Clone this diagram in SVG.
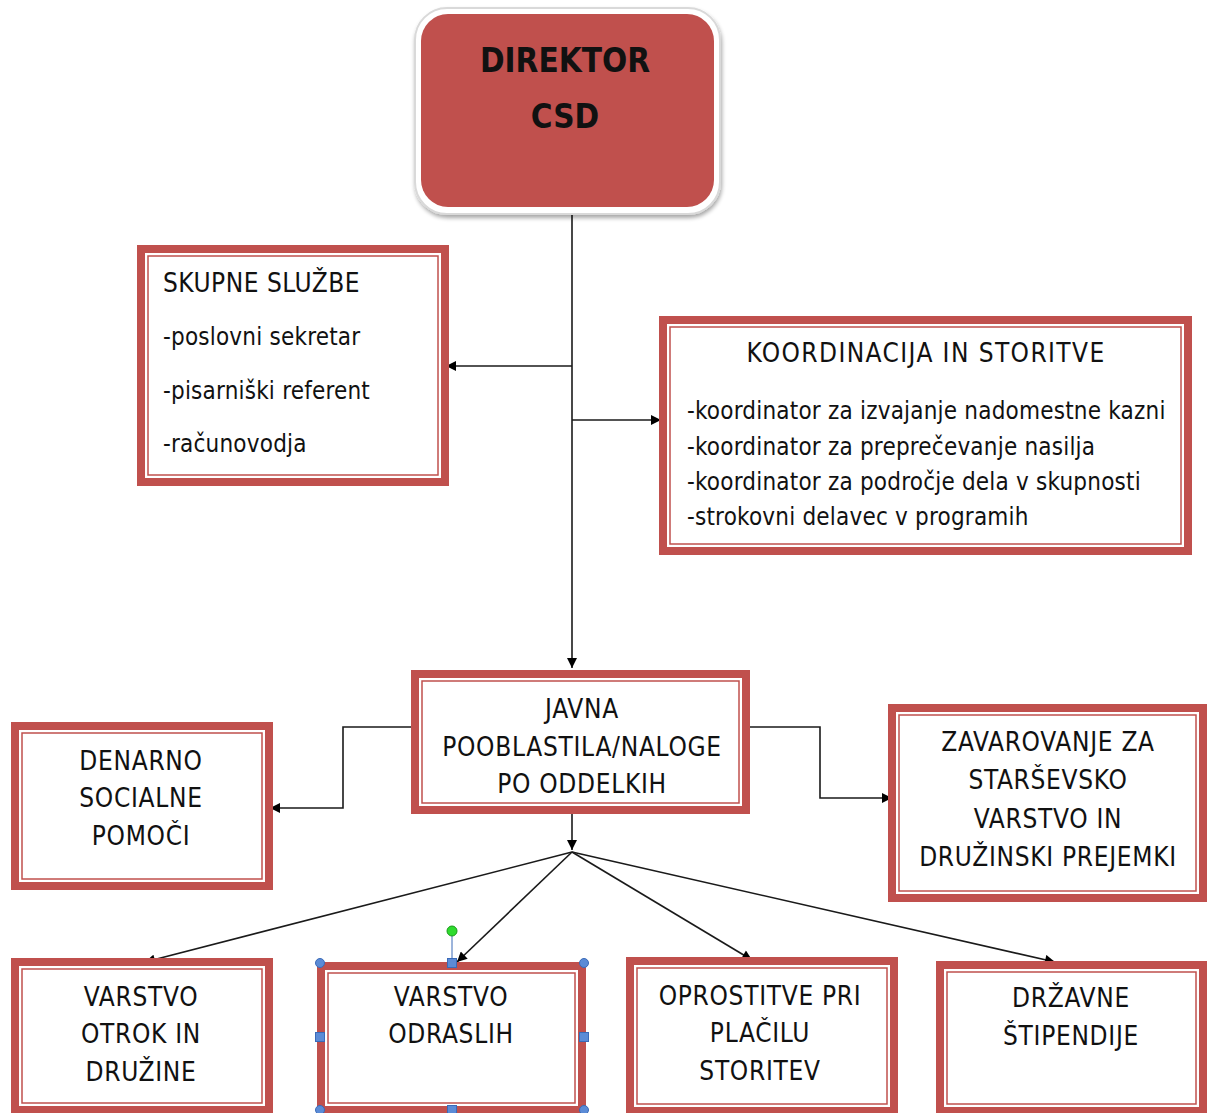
<svg xmlns="http://www.w3.org/2000/svg" width="1207" height="1113" viewBox="0 0 1207 1113">
<style>
.outer{fill:#fff;stroke:#C0504D;stroke-width:8}
.inner{fill:none;stroke:#C0504D;stroke-width:1.5}
.t{font-family:"DejaVu Sans Condensed","DejaVu Sans",sans-serif;font-stretch:condensed;font-size:26px;fill:#111}
.c{text-anchor:middle;letter-spacing:0.7px}
.l{font-size:24px;letter-spacing:0.2px}
.con{fill:none;stroke:#1a1a1a;stroke-width:1.6}
.h{fill:#5B8BD6;stroke:#3A6AB8;stroke-width:1}
</style>
<defs>
<marker id="ah" viewBox="0 0 10 10" refX="10" refY="5" markerWidth="12" markerHeight="10" markerUnits="userSpaceOnUse" orient="auto">
<path d="M0,0 L10,5 L0,10 z" fill="#000"/>
</marker>
<filter id="sh" x="-10%" y="-10%" width="120%" height="120%">
<feGaussianBlur in="SourceAlpha" stdDeviation="2"/>
<feOffset dx="1" dy="3"/>
<feComponentTransfer><feFuncA type="linear" slope="0.35"/></feComponentTransfer>
<feMerge><feMergeNode/><feMergeNode in="SourceGraphic"/></feMerge>
</filter>
</defs>
<rect width="1207" height="1113" fill="#fff"/>

<g id="connectors">
<path class="con" d="M572,207 V668" marker-end="url(#ah)"/>
<path class="con" d="M572,366 H446" marker-end="url(#ah)"/>
<path class="con" d="M572,420 H661" marker-end="url(#ah)"/>
<path class="con" d="M411,727 H343 V808 H270" marker-end="url(#ah)"/>
<path class="con" d="M749,727 H820 V798 H892" marker-end="url(#ah)"/>
<path class="con" d="M572,812 V850" marker-end="url(#ah)"/>
<path class="con" d="M572,852 L145,962" marker-end="url(#ah)"/>
<path class="con" d="M572,852 L457,962" marker-end="url(#ah)"/>
<path class="con" d="M572,852 L752,960" marker-end="url(#ah)"/>
<path class="con" d="M572,852 L1055,962" marker-end="url(#ah)"/>
</g>

<g id="direktor">
<rect x="415" y="8" width="305" height="206" rx="32" fill="#fff" stroke="#d9d9d9" stroke-width="2" filter="url(#sh)"/>
<rect x="421" y="14" width="293" height="193" rx="27" fill="#C0504D"/>
<text class="t" x="565" y="72" text-anchor="middle" style="font-weight:bold;font-size:33px">DIREKTOR</text>
<text class="t" x="565" y="128" text-anchor="middle" style="font-weight:bold;font-size:33px">CSD</text>
</g>

<g id="skupne">
<rect class="outer" x="141" y="249" width="304" height="233"/>
<rect class="inner" x="148" y="256" width="290" height="219"/>
<text class="t" x="163" y="292" style="letter-spacing:0.5px">SKUPNE SLUŽBE</text>
<text class="t l" x="163" y="345">-poslovni sekretar</text>
<text class="t l" x="163" y="399">-pisarniški referent</text>
<text class="t l" x="163" y="452">-računovodja</text>
</g>

<g id="koordinacija">
<rect class="outer" x="663" y="320" width="525" height="231"/>
<rect class="inner" x="670" y="327" width="511" height="217"/>
<text class="t c" x="926" y="362" style="letter-spacing:1.4px">KOORDINACIJA IN STORITVE</text>
<text class="t l" x="687" y="419">-koordinator za izvajanje nadomestne kazni</text>
<text class="t l" x="687" y="455">-koordinator za preprečevanje nasilja</text>
<text class="t l" x="687" y="490">-koordinator za področje dela v skupnosti</text>
<text class="t l" x="687" y="525">-strokovni delavec v programih</text>
</g>

<g id="javna">
<rect class="outer" x="415" y="674" width="331" height="136"/>
<rect class="inner" x="422" y="681" width="317" height="122"/>
<text class="t c" x="582" y="718">JAVNA</text>
<text class="t c" x="582" y="756">POOBLASTILA/NALOGE</text>
<text class="t c" x="582" y="793">PO ODDELKIH</text>
</g>

<g id="denarno">
<rect class="outer" x="15" y="726" width="254" height="160"/>
<rect class="inner" x="22" y="733" width="240" height="146"/>
<text class="t c" x="141" y="770">DENARNO</text>
<text class="t c" x="141" y="807">SOCIALNE</text>
<text class="t c" x="141" y="845">POMOČI</text>
</g>

<g id="zavarovanje">
<rect class="outer" x="892" y="708" width="311" height="190"/>
<rect class="inner" x="899" y="715" width="297" height="176"/>
<text class="t c" x="1048" y="751">ZAVAROVANJE ZA</text>
<text class="t c" x="1048" y="789">STARŠEVSKO</text>
<text class="t c" x="1048" y="828">VARSTVO IN</text>
<text class="t c" x="1048" y="866">DRUŽINSKI PREJEMKI</text>
</g>

<g id="varstvo-otrok">
<rect class="outer" x="15" y="962" width="254" height="148"/>
<rect class="inner" x="22" y="969" width="240" height="134"/>
<text class="t c" x="141" y="1006">VARSTVO</text>
<text class="t c" x="141" y="1043">OTROK IN</text>
<text class="t c" x="141" y="1081">DRUŽINE</text>
</g>

<g id="varstvo-odraslih">
<rect class="outer" x="321" y="966" width="261" height="144"/>
<rect class="inner" x="328" y="973" width="247" height="130"/>
<text class="t c" x="451" y="1006">VARSTVO</text>
<text class="t c" x="451" y="1043">ODRASLIH</text>
<line x1="452" y1="931" x2="452" y2="963" stroke="#3A6AB8" stroke-width="1"/>
<circle cx="452" cy="931" r="5" fill="#2EDB2E" stroke="#1a9a1a" stroke-width="1"/>
<circle class="h" cx="320" cy="963" r="4.5"/>
<circle class="h" cx="584" cy="963" r="4.5"/>
<circle class="h" cx="320" cy="1110" r="4.5"/>
<circle class="h" cx="584" cy="1110" r="4.5"/>
<rect class="h" x="447.5" y="958.5" width="9" height="9"/>
<rect class="h" x="447.5" y="1105.5" width="9" height="9"/>
<rect class="h" x="315.5" y="1032.5" width="9" height="9"/>
<rect class="h" x="579.5" y="1032.5" width="9" height="9"/>
</g>

<g id="oprostitve">
<rect class="outer" x="630" y="961" width="264" height="150"/>
<rect class="inner" x="637" y="968" width="250" height="136"/>
<text class="t c" x="760" y="1005">OPROSTITVE PRI</text>
<text class="t c" x="760" y="1042">PLAČILU</text>
<text class="t c" x="760" y="1080">STORITEV</text>
</g>

<g id="drzavne">
<rect class="outer" x="940" y="965" width="263" height="146"/>
<rect class="inner" x="947" y="972" width="249" height="132"/>
<text class="t c" x="1071" y="1007">DRŽAVNE</text>
<text class="t c" x="1071" y="1045">ŠTIPENDIJE</text>
</g>
</svg>
